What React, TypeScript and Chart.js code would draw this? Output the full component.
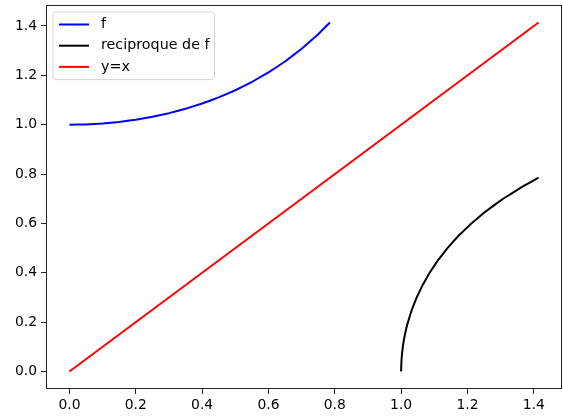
import React, { useEffect, useRef } from "react";
import { Chart, registerables } from "chart.js";

Chart.register(...registerables);

// f(x) = 1/cos(x), x in [0, pi/4]
const fX = [0, 0.05, 0.1, 0.15, 0.2, 0.25, 0.3, 0.35, 0.4, 0.45, 0.5, 0.55, 0.6, 0.65, 0.7, 0.75, 0.7854];
const fY = [1.0, 1.00125, 1.00502, 1.01136, 1.02034, 1.03209, 1.04675, 1.06454, 1.0857, 1.11056, 1.13949, 1.17299, 1.21163, 1.25615, 1.30746, 1.3667, 1.41421];
// reciprocal: mirrored curve
const rX = [1.0, 1.00031, 1.00125, 1.00282, 1.00502, 1.00786, 1.01136, 1.01552, 1.02034, 1.03209, 1.04675, 1.06454, 1.0857, 1.11056, 1.13949, 1.17299, 1.21163, 1.25615, 1.30746, 1.3667, 1.41421];
const rY = [0, 0.025, 0.05, 0.075, 0.1, 0.125, 0.15, 0.175, 0.2, 0.25, 0.3, 0.35, 0.4, 0.45, 0.5, 0.55, 0.6, 0.65, 0.7, 0.75, 0.7854];
// y = x
const idX = [0, 1.41421];
const idY = [0, 1.41421];

const labels = ["f", "reciproque de f", "y=x"];
const colors = ["#0000ff", "#000000", "#ff0000"];
const tickValues = [0, 0.2, 0.4, 0.6, 0.8, 1.0, 1.2, 1.4];
const axisMin = -0.0707;
const axisMax = 1.4849;

const FONT = "DejaVu Sans";

const zip = (xs: number[], ys: number[]) => xs.map((x, i) => ({ x, y: ys[i] }));

const framePlugin = {
  id: "frame",
  afterDatasetsDraw(chart: any) {
    const { ctx, chartArea } = chart;
    ctx.save();
    ctx.strokeStyle = "#222";
    ctx.lineWidth = 1;
    ctx.strokeRect(
      Math.round(chartArea.left) + 0.5,
      Math.round(chartArea.top) + 0.5,
      Math.round(chartArea.right - chartArea.left) - 1,
      Math.round(chartArea.bottom - chartArea.top) - 1
    );
    ctx.restore();
  },
};

const legendPlugin = {
  id: "mplLegend",
  afterDraw(chart: any) {
    const { ctx, chartArea } = chart;
    const ds = chart.data.datasets;
    ctx.save();
    ctx.font = `14.3px "${FONT}"`;
    let maxW = 0;
    ds.forEach((d: any) => {
      maxW = Math.max(maxW, ctx.measureText(d.label).width);
    });
    const x0 = chartArea.left + 7;
    const y0 = chartArea.top + 7;
    const rowH = 21.2;
    const w = 48 + maxW + 5;
    const h = rowH * ds.length + 4;
    const r = 3;
    ctx.beginPath();
    ctx.moveTo(x0 + r, y0);
    ctx.lineTo(x0 + w - r, y0);
    ctx.quadraticCurveTo(x0 + w, y0, x0 + w, y0 + r);
    ctx.lineTo(x0 + w, y0 + h - r);
    ctx.quadraticCurveTo(x0 + w, y0 + h, x0 + w - r, y0 + h);
    ctx.lineTo(x0 + r, y0 + h);
    ctx.quadraticCurveTo(x0, y0 + h, x0, y0 + h - r);
    ctx.lineTo(x0, y0 + r);
    ctx.quadraticCurveTo(x0, y0, x0 + r, y0);
    ctx.closePath();
    ctx.fillStyle = "rgba(255,255,255,0.8)";
    ctx.fill();
    ctx.strokeStyle = "#d6d6d6";
    ctx.lineWidth = 1;
    ctx.stroke();
    ds.forEach((d: any, i: number) => {
      const cy = y0 + 12.5 + i * rowH;
      ctx.strokeStyle = d.borderColor;
      ctx.lineWidth = 2;
      ctx.beginPath();
      ctx.moveTo(x0 + 6, cy);
      ctx.lineTo(x0 + 36, cy);
      ctx.stroke();
      ctx.fillStyle = "#000";
      ctx.textBaseline = "middle";
      ctx.textAlign = "left";
      ctx.fillText(d.label, x0 + 48, cy);
    });
    ctx.restore();
  },
};

export default function App() {
  const ref = useRef<HTMLCanvasElement | null>(null);
  useEffect(() => {
    if (!ref.current) return;
    const series = [zip(fX, fY), zip(rX, rY), zip(idX, idY)];
    const chart = new Chart(ref.current, {
      type: "scatter",
      data: {
        datasets: series.map((data, i) => ({
          label: labels[i],
          data,
          showLine: true,
          borderColor: colors[i],
          backgroundColor: colors[i],
          borderWidth: 2,
          pointRadius: 0,
          tension: 0.0001,
          borderJoinStyle: "round" as const,
        })),
      },
      options: {
        animation: false,
        responsive: false,
        devicePixelRatio: 1,
        layout: { padding: { top: 5, right: 1, left: 0, bottom: 0 } },
        plugins: { legend: { display: false }, tooltip: { enabled: false } },
        scales: {
          x: {
            type: "linear",
            min: axisMin,
            max: axisMax,
            afterBuildTicks: (s: any) => {
              s.ticks = tickValues.map((v) => ({ value: v }));
            },
            afterFit: (s: any) => {
              s.height = 27;
              s.paddingLeft = 0;
              s.paddingRight = 0;
            },
            grid: { drawOnChartArea: false, drawTicks: true, tickLength: 5, color: "#222", lineWidth: 1 },
            border: { display: false },
            ticks: {
              autoSkip: false,
              maxRotation: 0,
              padding: 3,
              color: "#000",
              font: { family: FONT, size: 13.9 },
              callback: (v: any) => Number(v).toFixed(1),
            },
          },
          y: {
            type: "linear",
            min: axisMin,
            max: axisMax,
            afterBuildTicks: (s: any) => {
              s.ticks = tickValues.map((v) => ({ value: v }));
            },
            afterFit: (s: any) => {
              s.width = 46;
              s.paddingTop = 0;
              s.paddingBottom = 0;
            },
            grid: { drawOnChartArea: false, drawTicks: true, tickLength: 5, color: "#222", lineWidth: 1 },
            border: { display: false },
            ticks: {
              autoSkip: false,
              padding: 4,
              color: "#000",
              font: { family: FONT, size: 13.9 },
              callback: (v: any) => Number(v).toFixed(1),
            },
          },
        },
      },
      plugins: [framePlugin, legendPlugin],
    });
    return () => chart.destroy();
  }, []);
  return (
    <div style={{ position: "absolute", left: 0, top: 0, width: 563, height: 416, background: "#fff" }}>
      <canvas ref={ref} width={563} height={416} style={{ width: 563, height: 416, display: "block" }} />
    </div>
  );
}
